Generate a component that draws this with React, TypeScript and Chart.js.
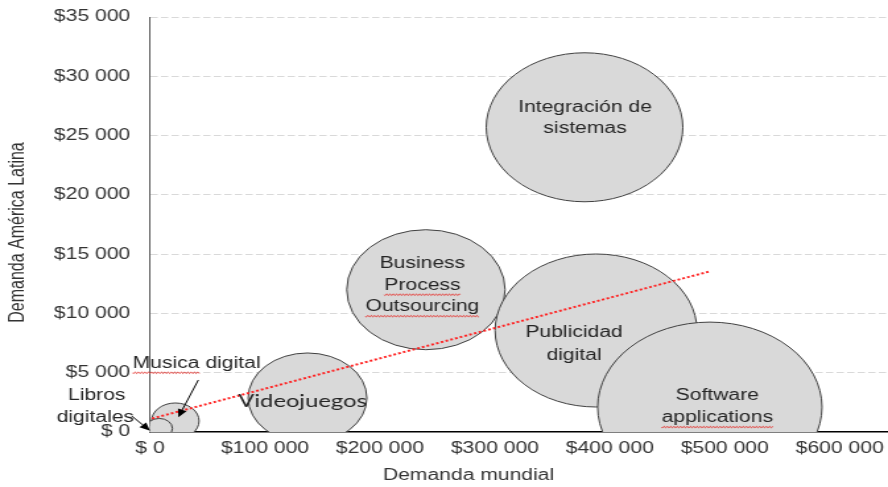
import React, { useEffect, useRef } from 'react';
import { Chart, registerables } from 'chart.js';

Chart.register(...registerables);

// ---------- data ----------
const categories = [
  'Integración de sistemas',
  'Business Process Outsourcing',
  'Publicidad digital',
  'Software applications',
  'Videojuegos',
  'Musica digital',
  'Libros digitales',
  'Libros digitales ',
  'Libros digitales  ',
];
// Demanda mundial (x)
const demandaMundial = [378000, 240000, 388000, 487000, 137000, 22000, 6000, 4000, 8000];
// Demanda America Latina (y)
const demandaLatam = [25700, 12000, 8560, 2100, 2870, 930, 200, 150, 300];
// bubble size (radius)
const bubbleSizes = [74.5, 60, 76.5, 85, 45, 18, 8, 6, 10];

// linear trend line end points
const trendX = [1700, 487000];
const trendY = [1140, 13550];

const xTickValues = [0, 100000, 200000, 300000, 400000, 500000, 600000];
const xTickLabels = ['$ 0', '$100 000', '$200 000', '$300 000', '$400 000', '$500 000', '$600 000'];
const yTickValues = [0, 5000, 10000, 15000, 20000, 25000, 30000, 35000];
const yTickLabels = ['$ 0', '$5 000', '$10 000', '$15 000', '$20 000', '$25 000', '$30 000', '$35 000'];

const xTitle = 'Demanda mundial';
const yTitle = 'Demanda América Latina';

// ---------- layout / style ----------
const CW = 673; // internal canvas width (stretched to 888 like the reference)
const CH = 487;
const K = 888 / CW;
const FONT = '"Liberation Sans", Arial, sans-serif';
const TEXT = '#333333';
const LABEL = '#262626';

type Line = { text: string; dx: number; dy: number; wavy?: string };
const labelSpecs: { i: number; font: string; lines: Line[] }[] = [
  { i: 0, font: `16px ${FONT}`, lines: [
    { text: 'Integración de', dx: 0.5, dy: -19.5 },
    { text: 'sistemas', dx: 0.5, dy: 1.5 },
  ] },
  { i: 1, font: `16px ${FONT}`, lines: [
    { text: 'Business', dx: -3.5, dy: -26.5 },
    { text: 'Process', dx: -3.5, dy: -4.5, wavy: 'Process' },
    { text: 'Outsourcing', dx: -3.5, dy: 17, wavy: 'Outsourcing' },
  ] },
  { i: 2, font: `16px ${FONT}`, lines: [
    { text: 'Publicidad', dx: -22, dy: 2.5 },
    { text: 'digital', dx: -22, dy: 25 },
  ] },
  { i: 3, font: `16px ${FONT}`, lines: [
    { text: 'Software', dx: 7.5, dy: -11.5 },
    { text: 'applications', dx: 7.5, dy: 10.5, wavy: 'applications' },
  ] },
  { i: 4, font: `18px Lato, ${FONT}`, lines: [
    { text: 'Videojuegos', dx: -5, dy: 3.7 },
  ] },
  { i: 5, font: `16px ${FONT}`, lines: [
    { text: 'Musica digital', dx: 21.3, dy: -57.7, wavy: 'Musica' },
  ] },
  { i: 6, font: `16px ${FONT}`, lines: [
    { text: 'Libros', dx: -60.2, dy: -33.8 },
    { text: 'digitales', dx: -61.6, dy: -12.1 },
  ] },
];

const arrowSpecs = [
  { i: 5, fx: 23, fy: -41, tx: 3, ty: -3.7 },
  { i: 6, fx: -25.2, fy: -13.6, tx: -6.9, ty: 1.1 },
];

function drawWavy(ctx: CanvasRenderingContext2D, x0: number, x1: number, y: number) {
  ctx.save();
  ctx.strokeStyle = '#e53935';
  ctx.lineWidth = 0.8;
  ctx.beginPath();
  for (let x = x0; x <= x1; x += 0.5) {
    const yy = y + Math.sin(((x - x0) / 2.5) * Math.PI * 2) * 0.9;
    if (x === x0) ctx.moveTo(x, yy);
    else ctx.lineTo(x, yy);
  }
  ctx.stroke();
  ctx.restore();
}

function drawArrow(ctx: CanvasRenderingContext2D, x0: number, y0: number, x1: number, y1: number) {
  const ang = Math.atan2(y1 - y0, x1 - x0);
  const L = 8;
  const Wd = 3.5;
  const bx = x1 - L * Math.cos(ang);
  const by = y1 - L * Math.sin(ang);
  ctx.save();
  ctx.strokeStyle = '#000';
  ctx.fillStyle = '#000';
  ctx.lineWidth = 1;
  ctx.beginPath();
  ctx.moveTo(x0, y0);
  ctx.lineTo(bx, by);
  ctx.stroke();
  ctx.beginPath();
  ctx.moveTo(x1, y1);
  ctx.lineTo(bx + Wd * Math.sin(ang), by - Wd * Math.cos(ang));
  ctx.lineTo(bx - Wd * Math.sin(ang), by + Wd * Math.cos(ang));
  ctx.closePath();
  ctx.fill();
  ctx.restore();
}

const annotationPlugin = {
  id: 'bubbleAnnotations',
  afterDatasetsDraw(chart: any) {
    const { ctx, scales } = chart;
    const xs = scales.x;
    const ys = scales.y;
    const bxOf = (i: number) => xs.getPixelForValue(demandaMundial[i]);
    const byOf = (i: number) => ys.getPixelForValue(demandaLatam[i]);
    ctx.save();
    ctx.textAlign = 'center';
    ctx.textBaseline = 'middle';
    for (const spec of labelSpecs) {
      ctx.font = spec.font;
      ctx.fillStyle = LABEL;
      const bx = bxOf(spec.i);
      const by = byOf(spec.i);
      for (const ln of spec.lines) {
        const x = bx + ln.dx / K;
        const y = by + ln.dy;
        ctx.fillText(ln.text, x, y);
        if (ln.wavy) {
          const full = ctx.measureText(ln.text).width;
          const idx = ln.text.indexOf(ln.wavy);
          const start = x - full / 2 + ctx.measureText(ln.text.slice(0, idx)).width;
          const w = ctx.measureText(ln.wavy).width;
          drawWavy(ctx, start, start + w, y + 9.5);
        }
      }
    }
    for (const a of arrowSpecs) {
      const bx = bxOf(a.i);
      const by = byOf(a.i);
      drawArrow(ctx, bx + a.fx / K, by + a.fy, bx + a.tx / K, by + a.ty);
    }
    ctx.restore();
  },
  afterDraw(chart: any) {
    const { ctx, chartArea } = chart;
    ctx.save();
    ctx.fillStyle = TEXT;
    ctx.font = `16px ${FONT}`;
    ctx.textAlign = 'center';
    ctx.textBaseline = 'middle';
    ctx.fillText(xTitle, chartArea.left + (468.5 - 150) / K, 475.3);
    ctx.translate(14, chartArea.top + 215.5);
    ctx.rotate(-Math.PI / 2);
    ctx.fillText(yTitle, 0, 0);
    ctx.restore();
  },
};

export default function App() {
  const canvasRef = useRef<HTMLCanvasElement | null>(null);

  useEffect(() => {
    const canvas = canvasRef.current;
    if (!canvas) return;
    const bubbleData = categories.map((_, i) => ({
      x: demandaMundial[i],
      y: demandaLatam[i],
      r: bubbleSizes[i],
    }));
    const chart = new Chart(canvas, {
      type: 'bubble',
      data: {
        datasets: [
          {
            type: 'line',
            label: 'Lineal',
            data: trendX.map((x, i) => ({ x, y: trendY[i] })),
            borderColor: '#ff2222',
            borderWidth: 2,
            borderDash: [2, 1.8],
            pointRadius: 0,
            fill: false,
            tension: 0,
            order: 0,
          } as any,
          {
            type: 'bubble',
            label: 'Demanda',
            data: bubbleData,
            backgroundColor: '#d9d9d9',
            borderColor: '#404040',
            borderWidth: 1,
            hoverRadius: 0,
            order: 1,
          },
        ],
      },
      options: {
        animation: false,
        responsive: false,
        devicePixelRatio: 1,
        events: [],
        layout: { padding: { top: 17, left: 0, right: 0, bottom: 0 }, autoPadding: false } as any,
        plugins: {
          legend: { display: false },
          tooltip: { enabled: false },
        },
        scales: {
          x: {
            type: 'linear',
            min: 0,
            max: 642000,
            grid: { display: false, drawTicks: true, tickLength: 7 },
            border: { display: true, color: '#000000', width: 1.5 },
            afterBuildTicks: (s: any) => {
              s.ticks = xTickValues.map((value) => ({ value }));
            },
            ticks: {
              autoSkip: false,
              maxRotation: 0,
              padding: 0,
              color: TEXT,
              font: { family: FONT, size: 16 },
              callback: (v: any) => xTickLabels[xTickValues.indexOf(Number(v))] ?? '',
            },
            afterFit: (s: any) => { s.height = 55; },
          },
          y: {
            type: 'linear',
            min: 0,
            max: 35000,
            afterBuildTicks: (s: any) => {
              s.ticks = yTickValues.map((value) => ({ value }));
            },
            grid: {
              display: true,
              drawTicks: true,
              tickLength: 15,
              tickColor: 'rgba(0,0,0,0)',
              lineWidth: 1,
              color: (c: any) => (c.tick && c.tick.value === 0 ? 'rgba(0,0,0,0)' : '#d9d9d9'),
            },
            border: { display: true, color: '#595959', width: 1, dash: [5.5, 2.5] },
            ticks: {
              padding: 0,
              color: TEXT,
              font: { family: FONT, size: 16 },
              callback: (v: any) => yTickLabels[yTickValues.indexOf(Number(v))] ?? '',
            },
            afterFit: (s: any) => { s.width = 113.7; },
          },
        },
      },
      plugins: [annotationPlugin],
    } as any);
    return () => chart.destroy();
  }, []);

  return (
    <div style={{ position: 'fixed', left: 0, top: 0, width: 888, height: 487, background: '#fff' }}>
      <canvas
        ref={canvasRef}
        width={CW}
        height={CH}
        style={{ width: '888px', height: '487px', display: 'block' }}
      />
    </div>
  );
}
